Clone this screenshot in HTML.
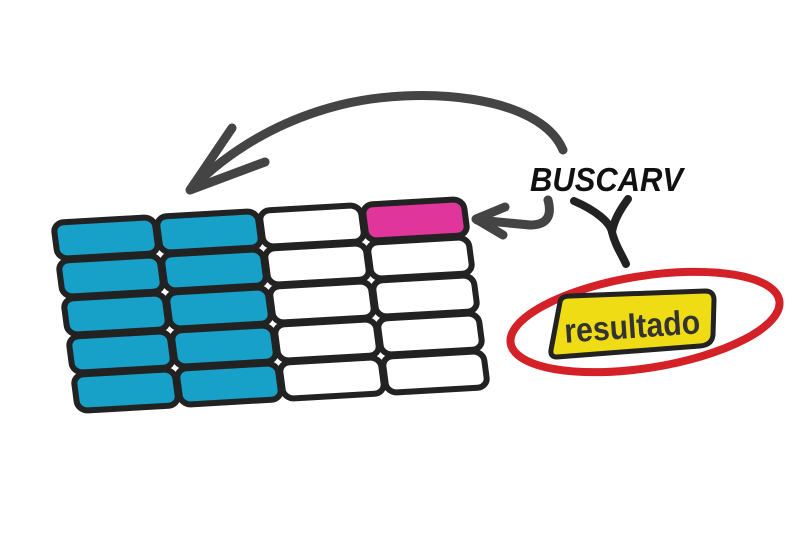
<!DOCTYPE html>
<html><head><meta charset="utf-8"><style>
html,body{margin:0;padding:0;background:#fff;width:800px;height:540px;overflow:hidden}
svg{display:block}
</style></head><body>
<svg width="800" height="540" viewBox="0 0 800 540" xmlns="http://www.w3.org/2000/svg">
<g transform="matrix(1.03,-0.06,0.125,0.95,52,222)" stroke="#222" stroke-width="6" fill="#fff">
  <g fill="#17a0c8">
    <rect x="1" y="1" width="98" height="38" rx="10" vector-effect="non-scaling-stroke"/>
    <rect x="101" y="1" width="98" height="38" rx="10" vector-effect="non-scaling-stroke"/>
    <rect x="1" y="41" width="98" height="38" rx="10" vector-effect="non-scaling-stroke"/>
    <rect x="101" y="41" width="98" height="38" rx="10" vector-effect="non-scaling-stroke"/>
    <rect x="1" y="81" width="98" height="38" rx="10" vector-effect="non-scaling-stroke"/>
    <rect x="101" y="81" width="98" height="38" rx="10" vector-effect="non-scaling-stroke"/>
    <rect x="1" y="121" width="98" height="38" rx="10" vector-effect="non-scaling-stroke"/>
    <rect x="101" y="121" width="98" height="38" rx="10" vector-effect="non-scaling-stroke"/>
    <rect x="1" y="161" width="98" height="38" rx="10" vector-effect="non-scaling-stroke"/>
    <rect x="101" y="161" width="98" height="38" rx="10" vector-effect="non-scaling-stroke"/>
  </g>
  <rect x="201" y="1" width="98" height="38" rx="10" vector-effect="non-scaling-stroke"/>
  <rect x="301" y="1" width="98" height="38" rx="10" fill="#e0359a" vector-effect="non-scaling-stroke"/>
  <rect x="201" y="41" width="98" height="38" rx="10" vector-effect="non-scaling-stroke"/>
  <rect x="301" y="41" width="98" height="38" rx="10" vector-effect="non-scaling-stroke"/>
  <rect x="201" y="81" width="98" height="38" rx="10" vector-effect="non-scaling-stroke"/>
  <rect x="301" y="81" width="98" height="38" rx="10" vector-effect="non-scaling-stroke"/>
  <rect x="201" y="121" width="98" height="38" rx="10" vector-effect="non-scaling-stroke"/>
  <rect x="301" y="121" width="98" height="38" rx="10" vector-effect="non-scaling-stroke"/>
  <rect x="201" y="161" width="98" height="38" rx="10" vector-effect="non-scaling-stroke"/>
  <rect x="301" y="161" width="98" height="38" rx="10" vector-effect="non-scaling-stroke"/>
</g>
<g fill="none" stroke="#444" stroke-width="9" stroke-linecap="round" stroke-linejoin="round">
  <path d="M563,150 C540,95 420,85 340,105 C280,120 230,150 192,188"/>
  <polyline points="232,128 190,190 265,162"/>
  <path d="M548,200 C552,215 548,225 530,225 L477,220"/>
  <polyline points="505,207 476,219 503,235"/>
</g>
<g fill="none" stroke="#222" stroke-width="8" stroke-linecap="round" stroke-linejoin="round">
  <path d="M574,201 C595,210 610,222 612,232 C615,245 622,255 626,264"/>
  <path d="M628,199 C620,210 614,220 612,232"/>
</g>
<text x="530" y="191" textLength="153" lengthAdjust="spacingAndGlyphs" font-family="Liberation Sans, sans-serif" font-weight="bold" font-style="italic" font-size="33" fill="#111">BUSCARV</text>
<ellipse cx="645" cy="322" rx="136" ry="46" transform="rotate(-9 645 322)" fill="none" stroke="#d42027" stroke-width="8"/>
<path d="M560,302 Q561,296 570,296 L705,291 Q714,291 714,300 L713,335 Q712,345 700,346 L557,357 Q550,357 551,350 Z" fill="#f0dc14" stroke="#222" stroke-width="5" stroke-linejoin="round"/>
<text x="564" y="338" textLength="136" lengthAdjust="spacingAndGlyphs" transform="rotate(-4 632 325)" font-family="Liberation Sans, sans-serif" font-weight="bold" font-size="34" fill="#333">resultado</text>
</svg>
</body></html>
